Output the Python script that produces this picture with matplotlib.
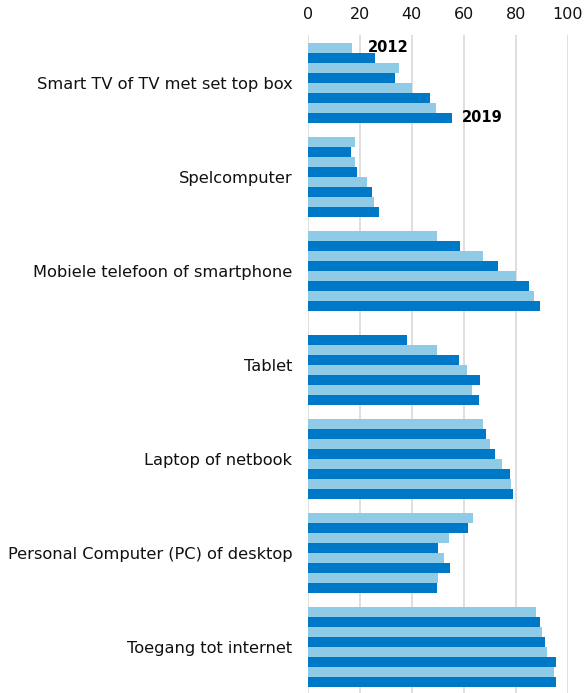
import numpy as np
import matplotlib
matplotlib.use("Agg")
from matplotlib import pyplot as plt

categories = [
    "Smart TV of TV met set top box",
    "Spelcomputer",
    "Mobiele telefoon of smartphone",
    "Tablet",
    "Laptop of netbook",
    "Personal Computer (PC) of desktop",
    "Toegang tot internet",
]
years = [2012, 2013, 2014, 2015, 2016, 2017, 2018, 2019]

# percentage per category, one value per year (2012..2019)
smart_tv = [17.2, 26.0, 35.0, 33.7, 40.3, 47.2, 49.2, 55.5]
spelcomputer = [18.1, 16.8, 18.1, 19.1, 22.8, 24.7, 25.6, 27.4]
mobiel = [49.6, 58.6, 67.4, 73.2, 80.1, 85.0, 87.1, 89.4]
tablet = [np.nan, 38.3, 49.7, 58.2, 61.4, 66.2, 63.2, 65.8]
laptop = [67.4, 68.7, 70.1, 72.1, 74.7, 77.7, 78.1, 79.0]
pc = [63.7, 61.5, 54.5, 50.3, 52.4, 54.6, 50.3, 49.6]
internet = [87.7, 89.2, 90.0, 91.3, 91.9, 95.5, 94.9, 95.5]

series = [smart_tv, spelcomputer, mobiel, tablet, laptop, pc, internet]

light = "#8FCAE6"
dark = "#0078C8"
group_step = 9.4

fig = plt.figure(figsize=(5.86, 6.93), dpi=100)
ax = fig.add_axes([0.525, 0.0, 0.4437, 0.9495])

for g, vals in enumerate(series):
    for j, v in enumerate(vals):
        if np.isnan(v):
            continue
        ax.barh(g * group_step + j, v, height=0.92,
                color=light if j % 2 == 0 else dark, zorder=3)

ax.text(23, 0, str(years[0]), fontsize=10.5, fontweight="bold",
        va="center", ha="left", zorder=4)
ax.text(smart_tv[-1] + 3.8, 7, str(years[-1]), fontsize=10.5,
        fontweight="bold", va="center", ha="left", zorder=4)

ax.set_xlim(0, 100)
ax.set_ylim(64.5, -1.3)
ax.set_xticks(range(0, 101, 20))
ax.xaxis.tick_top()
ax.tick_params(axis="x", length=0, labelsize=11.5, pad=9, colors="#111111")
ax.set_yticks([g * group_step + 3.5 for g in range(len(categories))])
ax.set_yticklabels(categories)
ax.tick_params(axis="y", length=0, labelsize=11.7, pad=11, colors="#111111")
ax.grid(axis="x", color="#D6D6D6", linewidth=1.1, zorder=0)
for s in ax.spines.values():
    s.set_visible(False)

fig.savefig("out.png", dpi=100)
